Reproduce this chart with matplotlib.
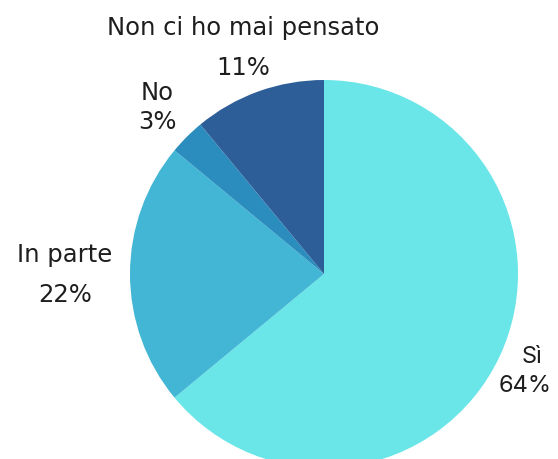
import matplotlib
matplotlib.use("Agg")
import matplotlib.pyplot as plt

categories = ["Sì", "In parte", "No", "Non ci ho mai pensato"]
values = [64, 22, 3, 11]
pct_labels = ["64%", "22%", "3%", "11%"]
colors = ["#6AE5E8", "#42B6D4", "#2A8DBE", "#2D5E98"]

W, H, DPI = 558, 459, 100
fig = plt.figure(figsize=(W / DPI, H / DPI), dpi=DPI)
cx, cy, r = 324, 274, 194
ax = fig.add_axes([(cx - r) / W, (H - cy - r) / H, 2 * r / W, 2 * r / H])
ax.pie(values, colors=colors, startangle=90, counterclock=False, radius=1,
       wedgeprops=dict(linewidth=0))
ax.set_xlim(-1, 1)
ax.set_ylim(-1, 1)
ax.set_aspect("auto")
ax.axis("off")

# label positions (data units)
name_pos = {"Sì": (1.072, -0.428), "In parte": (-1.335, 0.098),
            "No": (-0.861, 0.933), "Non ci ho mai pensato": (-0.418, 1.268)}
pct_pos = {"Sì": (1.036, -0.577), "In parte": (-1.335, -0.108),
           "No": (-0.861, 0.784), "Non ci ho mai pensato": (-0.418, 1.062)}

font_main = ["DejaVu Sans"]
font_si = ["Inter", "DejaVu Sans"]
for c, p in zip(categories, pct_labels):
    fam = font_si if c == "Sì" else font_main
    fs = 17 if c == "Sì" else 17.5
    x, y = name_pos[c]
    ax.text(x, y, c, ha="center", va="center", fontsize=fs, color="#1e1e1e",
            family=fam, clip_on=False)
    x, y = pct_pos[c]
    ax.text(x, y, p, ha="center", va="center", fontsize=fs, color="#1e1e1e",
            family=fam, clip_on=False)

fig.savefig("out.png", dpi=DPI, facecolor="white")
